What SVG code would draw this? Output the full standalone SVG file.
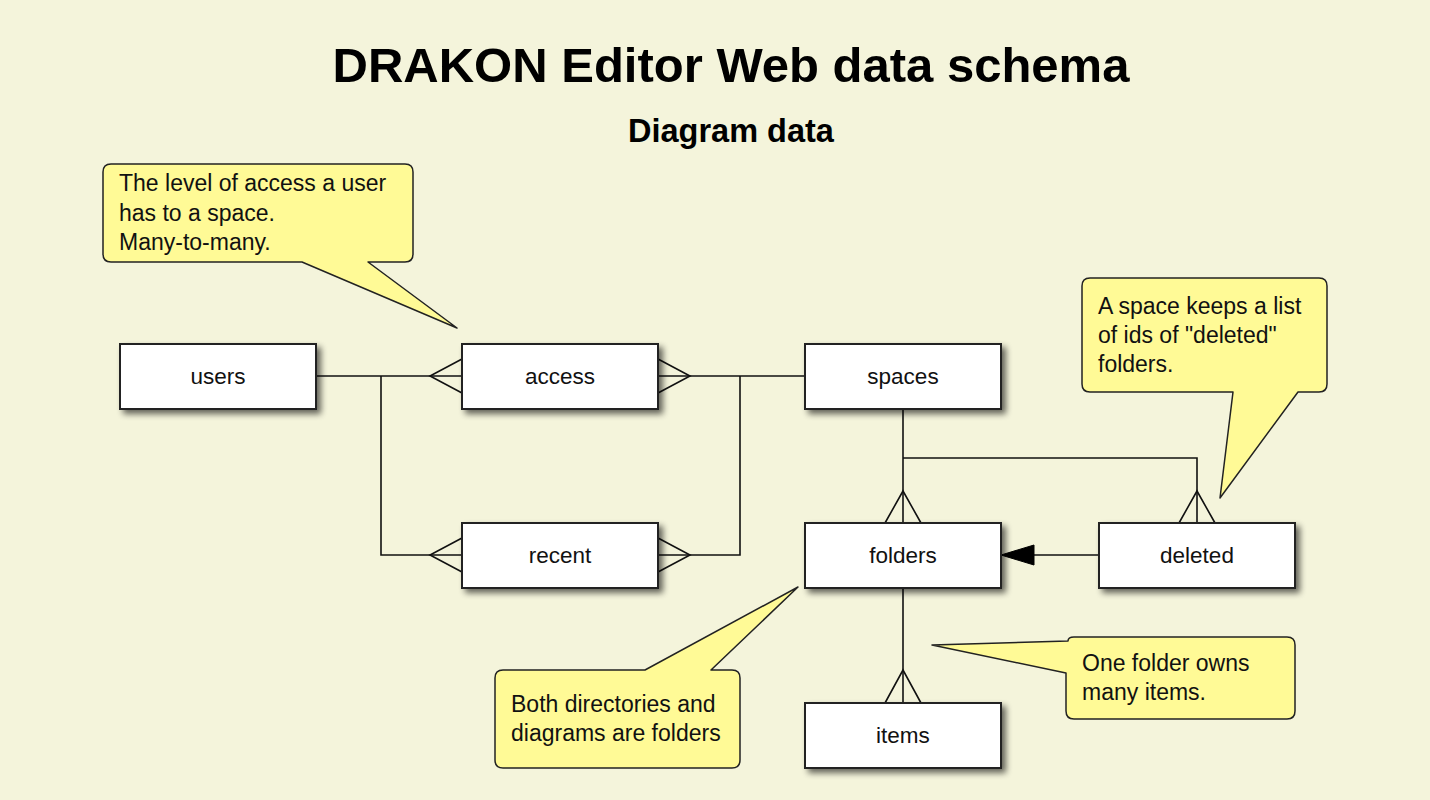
<svg xmlns="http://www.w3.org/2000/svg" width="1430" height="800" viewBox="0 0 1430 800">
<defs>
<filter id="sh" x="-20%" y="-20%" width="150%" height="160%">
<feGaussianBlur in="SourceAlpha" stdDeviation="3"/>
<feOffset dx="4" dy="4" result="b"/>
<feComponentTransfer><feFuncA type="linear" slope="0.6"/></feComponentTransfer>
<feMerge><feMergeNode/><feMergeNode in="SourceGraphic"/></feMerge>
</filter>
</defs>
<style>
.bg{fill:#f4f4db}
.title{font-family:"Liberation Sans",Arial,sans-serif;font-weight:bold;fill:#000;text-anchor:middle}
.node rect{fill:#fff;stroke:#222;stroke-width:2}
.node text{font-family:"Liberation Sans",Arial,sans-serif;font-size:22.5px;fill:#111;text-anchor:middle}
.call path{fill:#fffa96;stroke:#222;stroke-width:1.5;stroke-linejoin:round}
.call text{font-family:"Liberation Sans",Arial,sans-serif;font-size:23px;fill:#111}
.conn line,.conn polyline{stroke:#111;stroke-width:1.6;fill:none}
.conn polygon{fill:#000;stroke:#000}
</style>
<rect class="bg" x="0" y="0" width="1430" height="800"/>
<text class="title" x="731" y="82" font-size="49">DRAKON Editor Web data schema</text>
<text class="title" x="731" y="142" font-size="32.5">Diagram data</text>

<g id="connectors" class="conn">
<line x1="316" y1="376" x2="462" y2="376"/>
<polyline points="462,359 430,376 462,393"/>
<polyline points="381,376 381,555 462,555"/>
<polyline points="462,538 430,555 462,572"/>
<line x1="658" y1="376" x2="805" y2="376"/>
<polyline points="658,359 690,376 658,393"/>
<polyline points="740,376 740,555 658,555"/>
<polyline points="658,538 690,555 658,572"/>
<line x1="903" y1="409" x2="903" y2="523"/>
<polyline points="885,523 903,491 921,523"/>
<polyline points="903,458 1197,458 1197,523"/>
<polyline points="1179,523 1197,491 1215,523"/>
<line x1="1099" y1="555" x2="1030" y2="555"/>
<polygon points="1001,555 1034,545 1034,565"/>
<line x1="903" y1="588" x2="903" y2="703"/>
<polyline points="885,703 903,670 921,703"/>
</g>

<g id="users" class="node"><rect x="120" y="344" width="196" height="65" filter="url(#sh)"/><text x="218" y="384">users</text></g>
<g id="access" class="node"><rect x="462" y="344" width="196" height="65" filter="url(#sh)"/><text x="560" y="384">access</text></g>
<g id="spaces" class="node"><rect x="805" y="344" width="196" height="65" filter="url(#sh)"/><text x="903" y="384">spaces</text></g>
<g id="recent" class="node"><rect x="462" y="523" width="196" height="65" filter="url(#sh)"/><text x="560" y="563">recent</text></g>
<g id="folders" class="node"><rect x="805" y="523" width="196" height="65" filter="url(#sh)"/><text x="903" y="563">folders</text></g>
<g id="deleted" class="node"><rect x="1099" y="523" width="196" height="65" filter="url(#sh)"/><text x="1197" y="563">deleted</text></g>
<g id="items" class="node"><rect x="805" y="703" width="196" height="65" filter="url(#sh)"/><text x="903" y="743">items</text></g>

<g id="note-access" class="call">
<path d="M111,164 H405 Q413,164 413,172 V254 Q413,262 405,262 H368 L457,328 L302,262 H111 Q103,262 103,254 V172 Q103,164 111,164 Z"/>
<text x="119" y="191">The level of access a user</text>
<text x="119" y="221">has to a space.</text>
<text x="119" y="250">Many-to-many.</text>
</g>
<g id="note-deleted" class="call">
<path d="M1090,278 H1319 Q1327,278 1327,286 V384 Q1327,392 1319,392 H1298 L1220,498 L1233,392 H1090 Q1082,392 1082,384 V286 Q1082,278 1090,278 Z"/>
<text x="1098" y="314">A space keeps a list</text>
<text x="1098" y="343">of ids of "deleted"</text>
<text x="1098" y="372">folders.</text>
</g>
<g id="note-folders" class="call">
<path d="M503,670 H645 L798,587 L711,670 H732 Q740,670 740,678 V760 Q740,768 732,768 H503 Q495,768 495,760 V678 Q495,670 503,670 Z"/>
<text x="511" y="712">Both directories and</text>
<text x="511" y="741">diagrams are folders</text>
</g>
<g id="note-items" class="call">
<path d="M1074,637 H1287 Q1295,637 1295,645 V711 Q1295,719 1287,719 H1074 Q1066,719 1066,711 V673 L932,645 L1068,641 Q1068,637 1074,637 Z"/>
<text x="1082" y="671">One folder owns</text>
<text x="1082" y="700">many items.</text>
</g>
</svg>
